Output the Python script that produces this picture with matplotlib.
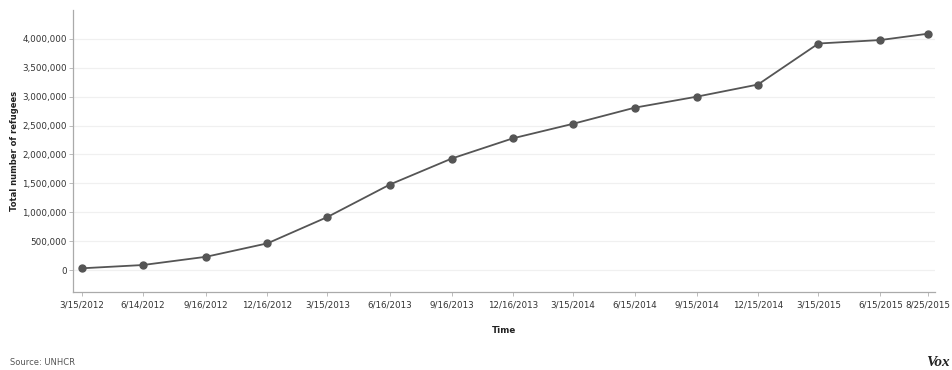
#Syrian refugees over time (UNHCR), Vox style line chart
import matplotlib
matplotlib.use("Agg")
import matplotlib.pyplot as plt
import matplotlib.ticker as mticker
from datetime import datetime


#the dates and values
date_labels = ["3/15/2012", "6/14/2012", "9/16/2012", "12/16/2012", "3/15/2013",
               "6/16/2013", "9/16/2013", "12/16/2013", "3/15/2014", "6/15/2014",
               "9/15/2014", "12/15/2014", "3/15/2015", "6/15/2015", "8/25/2015"]
refugees = [30000, 87000, 230000, 462000, 917000,
            1480000, 1930000, 2280000, 2530000, 2810000,
            3000000, 3210000, 3920000, 3980000, 4090000]
y_ticks = [0, 500000, 1000000, 1500000, 2000000, 2500000, 3000000, 3500000, 4000000]

dates = [datetime.strptime(d, "%m/%d/%Y") for d in date_labels]

fig = plt.figure(figsize=(9.53, 3.70), dpi=100)
ax = fig.add_axes([0.0766, 0.2108, 0.981 - 0.0766, 0.973 - 0.2108])

#the line with dots
ax.plot(dates, refugees, color="#555555", linewidth=1.3, marker="o",
        markersize=5, markerfacecolor="#555555", markeredgecolor="#555555", zorder=3)

ax.set_xlim(datetime(2012, 3, 2), datetime(2015, 9, 4))
ax.set_ylim(-380000, 4500000)

ax.set_xticks(dates)
ax.set_xticklabels(date_labels)
ax.set_yticks(y_ticks)
ax.yaxis.set_major_formatter(mticker.FuncFormatter(lambda v, p: f"{int(v):,}"))

#light grid
ax.grid(axis="y", color="#f0f0f0", linewidth=0.9, zorder=0)
ax.grid(axis="x", visible=False)

for s in ["top", "right"]:
    ax.spines[s].set_visible(False)
for s in ["left", "bottom"]:
    ax.spines[s].set_color("#aaaaaa")
    ax.spines[s].set_linewidth(0.9)

ax.tick_params(axis="both", colors="#bbbbbb", length=3, width=0.7, labelsize=6.3,
               labelcolor="#333333")
ax.tick_params(axis="y", pad=1.5)
ax.tick_params(axis="x", pad=3)

ax.set_ylabel("Total number of refugees", fontsize=6, fontweight="bold",
              color="#222222")
ax.yaxis.set_label_coords(-0.063, 0.5)
ax.set_xlabel("Time", fontsize=6.3, fontweight="bold", color="#222222", labelpad=12)

fig.text(0.0105, 0.008, "Source: UNHCR", fontsize=6, color="#555555", ha="left", va="bottom")
fig.text(0.997, 0.004, "Vox", fontsize=11, fontweight="bold", style="italic",
         family="Liberation Serif", color="#222222", ha="right", va="bottom")

fig.savefig("out.png", dpi=100)
